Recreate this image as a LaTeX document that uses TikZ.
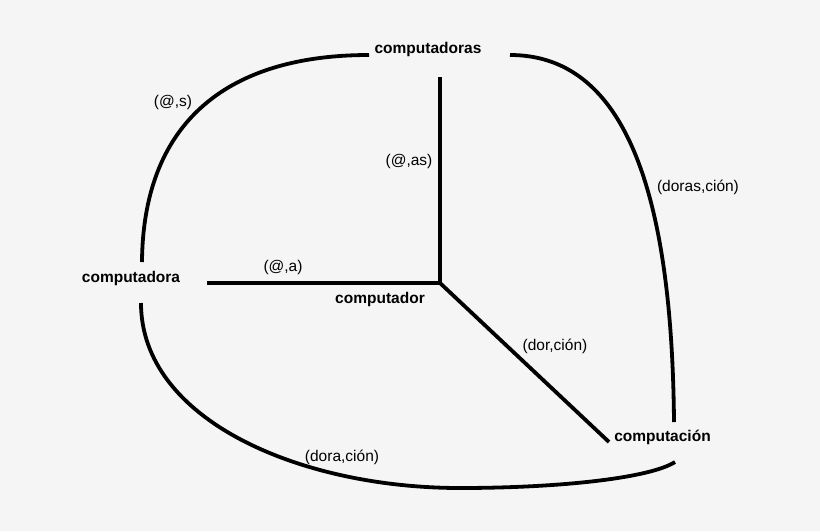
\documentclass[tikz,border=0pt]{standalone}
\usepackage{fontspec}
\setmainfont{Liberation Sans}
\definecolor{bgcol}{HTML}{F5F5F5}
\tikzset{
  word/.style={font=\fontsize{15.5}{18}\selectfont\bfseries, inner sep=0pt},
  lab/.style={font=\fontsize{15.5}{18}\selectfont, inner sep=0pt},
  edge/.style={line width=3.8pt, black}
}
\begin{document}
\begin{tikzpicture}[x=1pt,y=-1pt]
\fill[bgcol] (0,0) rectangle (820,531);
\useasboundingbox (0,0) rectangle (820,531);
% word nodes
\node[word] (cs) at (428,49) {computadoras};
\node[word] (ca) at (131,278) {computadora};
\node[word] (cr) at (380,299) {computador};
\node[word] (cn) at (662.5,437) {computación};
% connector end points
\coordinate (csL) at (369,55);
\coordinate (csR) at (510,55);
\coordinate (csB) at (440,77);
\coordinate (caT) at (142,262);
\coordinate (caB) at (141,303);
\coordinate (caR) at (207,283);
\coordinate (crC) at (440,283);
\coordinate (cnT) at (674,422);
\coordinate (cnB) at (675,462);
\coordinate (cnL) at (609,442);
\coordinate (bot) at (460,488);
% connectors
\draw[edge] (caT) .. controls (143,127) and (222,55) .. (csL);
\draw[edge] (csR) .. controls (620,55) and (672,180) .. (cnT);
\draw[edge] (caB) .. controls (141,420) and (300,488) .. (bot)
  .. controls (560,488) and (650,478) .. (cnB);
\draw[edge] (csB) -- (crC);
\draw[edge] (caR) -- (crC);
\draw[edge] (crC) -- (cnL);
% edge labels
\node[lab] (l1) at (173,102) {(@,s)};
\node[lab] (l2) at (409,161) {(@,as)};
\node[lab] (l3) at (283,267) {(@,a)};
\node[lab] (l4) at (698,187) {(doras,ción)};
\node[lab] (l5) at (555,346) {(dor,ción)};
\node[lab] (l6) at (342,457) {(dora,ción)};
\end{tikzpicture}
\end{document}
